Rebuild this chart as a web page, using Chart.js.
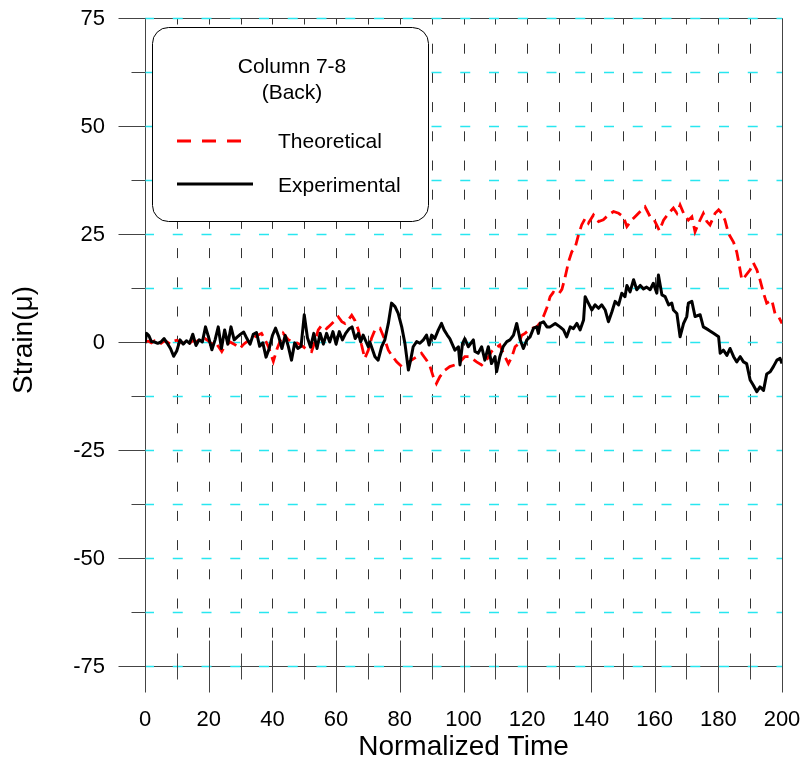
<!DOCTYPE html>
<html>
<head>
<meta charset="utf-8">
<script src="https://cdn.jsdelivr.net/npm/chart.js@4.4.1/dist/chart.umd.min.js"></script>
<style>
  html, body { margin: 0; padding: 0; background: #fff; }
</style>
</head>
<body>
<canvas id="strainChart" width="807" height="764"></canvas>
<script>
// values
const seriesNames = ['Theoretical', 'Experimental'];
const legendTitle = ['Column 7-8', '(Back)'];
const xTitle = 'Normalized Time';
const yTitle = 'Strain(\u03bc)';
const xTickLabels = [0, 20, 40, 60, 80, 100, 120, 140, 160, 180, 200];
const yTickLabels = [75, 50, 25, 0, -25, -50, -75];

const expTime = [
  0, 0.5, 1.2, 2, 3, 4, 5, 6, 7, 8,
  9, 10, 11, 12, 13, 14, 15, 16, 17, 18,
  19, 20, 21, 22, 23, 24, 25, 26, 27, 28,
  29, 30, 31, 32, 33, 34, 35, 36, 37, 38,
  39, 40, 41, 42, 43, 44, 45, 46, 47, 48,
  49, 50, 51, 52, 53, 54, 55, 56, 57, 58,
  59, 60, 61, 62, 63, 64, 65, 66, 67, 67.7,
  68.5, 70.1, 70.6, 72.2, 73.2, 74.3, 75.3, 76.4, 77.4, 78.5,
  79.5, 80.6, 81.6, 82.7, 83.4, 84.2, 85.3, 86.3, 87.4, 88.4,
  89.2, 90, 91, 92.1, 93.1, 93.9, 94.9, 95.7, 97.3, 98.4,
  98.9, 99.7, 100.4, 101.5, 103.1, 103.6, 104.6, 105.7, 106.7, 107.8,
  108.8, 109.9, 110.4, 111.4, 112.5, 113.6, 114.6, 115.7, 116.7, 117.8,
  118.8, 119.9, 120.9, 122, 123, 123.5, 124.1, 125.1, 126.2, 127.2,
  128.8, 130.3, 131.4, 132.4, 133.5, 134.5, 135.6, 136.6, 137.7, 138.2,
  139.2, 140.3, 141.3, 142.4, 143.4, 144.5, 145.5, 146.6, 147.6, 148.7,
  149.7, 150.7, 151.3, 152.3, 153.4, 154.4, 155.5, 156.5, 157.5, 158.6,
  159.6, 160.7, 161.2, 162.3, 163.3, 164.4, 165.4, 165.9, 167, 168,
  169.1, 170.1, 170.6, 171.7, 172.7, 174.3, 175.3, 176.9, 178.5, 180.1,
  180.6, 181.6, 182.7, 183.7, 184.8, 185.8, 186.9, 187.9, 188.9, 190,
  191, 192.1, 193.1, 194.2, 195.2, 196.3, 197.3, 198.4, 199.4, 200
];
const expStrain = [
  -0.3, 2.0, 1.5, 0.1, 0, -0.3, 0, 0.8, -0.3, -1.5,
  -3.3, -2, 0.5, -0.5, 0.3, -0.3, 1.8, -0.8, 0.5, 0,
  3.5, 1, -1.8, 0.5, 3.5, -1.5, 2.8, -0.5, 3.5, 0.5,
  1.2, 1.8, 2.3, 0.8, -0.5, 1.8, 2.2, -1, -0.2, -3.5,
  -1.5, 1.5, 3.2, 1.2, -1.5, 1.5, -1, -4.2, -0.2, -1.5,
  -1, 6.3, 1, -1.2, 2, -1.5, 2, -0.5, 2, 0,
  2.4, -0.5, 2.4, 0.5, 2, 3, 3.5, 0.8, 2, 0,
  1.6, -1.1, 0, -3.4, -4.2, -1.1, 0.5, 4.3, 9, 8.2,
  6.6, 3.5, -0.3, -6.5, -4.2, -1.1, 0.1, -0.3, 0.5, 1.6,
  -0.7, 1.6, 0.8, 2.8, 4.3, 2.8, 1.6, 0.8, -1.9, -1.1,
  -5.3, -0.3, 0.8, -1.1, 0.5, -2.2, -2.6, -1.1, -4.2, -1.1,
  -5, -3.4, -6.9, -3.4, -1, 0.1, 0.5, 1.6, 4.3, 0.5,
  -1.5, 0.5, 1.2, 3.2, 3.5, 2, 4.3, 4.7, 3.5, 3.5,
  4.3, 3.5, 2.8, 1.2, 3.5, 3.1, 4.3, 2.8, 5.1, 10.5,
  9, 7.4, 8.6, 7.8, 8.6, 7.4, 4.7, 7, 9.4, 8.6,
  11.3, 10.5, 13.1, 11.6, 14.4, 12.1, 13.1, 12.3, 12.7, 12.1,
  13.6, 11.3, 15.5, 10.9, 10.5, 8.6, 9, 7.4, 6.6, 1.2,
  4.3, 5.9, 9, 9.4, 5.9, 6.3, 3.5, 2.8, 2, 1.2,
  -2.6, -1.9, -3.1, -1.5, -3.4, -4.6, -3.4, -4.6, -5, -8.8,
  -10, -11.5, -10.4, -11.2, -7.4, -6.9, -5.7, -4.2, -3.8, -5
];

const theoTime = [
  0, 1, 2, 3, 4, 5, 6, 7, 8, 9,
  10, 11, 12, 13, 14, 15, 16, 17, 18.8, 20,
  21, 22, 23, 24.1, 25, 26.7, 28, 29.8, 31, 31.9,
  33, 34.5, 36.6, 37.7, 38.7, 40.3, 41.5, 43.4, 45, 47.1,
  48.5, 49.7, 51, 52.3, 53.3, 54.4, 55.5, 57, 58.3, 59.7,
  60.7, 61.8, 62.8, 63.8, 64.9, 65.9, 67, 68, 69, 70.1,
  71.1, 72.2, 73.8, 75.3, 76.4, 77.4, 79, 80.6, 82.1, 83.7,
  85.3, 86.8, 88.4, 89.5, 90.5, 91.5, 92.6, 94.2, 95.7, 97.3,
  98.9, 100.4, 102, 104.1, 105.7, 107.2, 108.8, 109.9, 111.4, 112.5,
  114.1, 115.2, 116.2, 117.5, 118.2, 119.3, 120.9, 123, 124.1, 125.1,
  126.2, 127.2, 128.2, 129.8, 130.9, 131.9, 133, 134, 135, 136.1,
  137.1, 138.2, 139.2, 140.8, 142.4, 143.9, 145.5, 147.1, 148.7, 150.2,
  151.3, 152.8, 154.4, 156, 157, 158.6, 159.9, 161.5, 162.8, 164.4,
  165.9, 167, 168, 169.1, 170.6, 171.7, 172.7, 173.8, 175.3, 176.4,
  177.4, 179, 180.1, 181.1, 182.1, 183.2, 184.8, 185.8, 186.3, 187.4,
  188.4, 190, 191, 192.1, 193.1, 194.2, 195.2, 196.8, 197.8, 198.9, 200
];
const theoStrain = [
  0, 0.2, -0.2, 0.3, 0, -0.3, 0.2, 0, -0.5, 0.2,
  0.4, 0, -0.3, 0.2, -0.3, 0.3, 0, 0.5, 0.8, 0.2,
  -0.5, 0, -1, -2.2, -1, 0, -0.5, -1.5, -0.5, 0,
  0.5, 1.2, 2, 0.5, -1, -4.5, -1.5, 2, 0.5, 0,
  -0.5, -1.1, -1.8, -2.2, 0, 2.8, 3.9, 3.1, 4, 5,
  5.8, 4.7, 4.3, 5.1, 6.2, 5, 2.8, -0.7, -3.8, -1.9,
  0.8, 2.8, 3.2, 0.5, -1.9, -3, -4.6, -5.7, -4.9, -4.2,
  -3.4, -2.6, -4.2, -5.7, -8, -9.6, -8, -6.5, -5.7, -5.3,
  -4.6, -3.4, -3.4, -4.6, -5.3, -4.2, -2.2, -1.5, -0.7, -2.6,
  -5, -3.4, -1.1, -0.3, 1.5, 2, 3, 3.5, 4.5, 5.9,
  8, 10.5, 11.5, 11, 12.2, 15, 18.6, 20.9, 21.7, 24.8,
  27.1, 28.6, 27.5, 29.4, 27.9, 28.3, 29.4, 30.2, 29.8, 29,
  26.7, 28.2, 29.4, 30.6, 31.3, 29, 28.2, 25.8, 28.2, 29.8,
  31, 29.8, 31.7, 29.8, 28.2, 29, 25.5, 27.5, 29.8, 27.9,
  27.1, 29.8, 30.6, 29.8, 28.2, 25.1, 23.1, 20.8, 18.9, 14.4,
  15.2, 16.7, 18.3, 16.7, 14.4, 11.3, 9, 9.7, 6.6, 5.9, 4.3
];

const fontFamily = '"Liberation Sans", Arial, Helvetica, sans-serif';
const axisColor = '#444';

// grid, frame, tick marks and axis labels (scales are hidden, drawn here from their pixel mapping)
const frame = {
  id: 'frame',
  beforeDatasetsDraw(chart) {
    const {ctx, chartArea: a, scales: {x, y}} = chart;
    const px = v => Math.round(x.getPixelForValue(v)) + 0.5;
    const py = v => Math.round(y.getPixelForValue(v)) + 0.5;
    ctx.save();
    ctx.lineWidth = 1;

    // vertical dashed grid every 10
    ctx.strokeStyle = '#333';
    ctx.setLineDash([10, 19.2]);
    ctx.lineDashOffset = 3.5;
    for (let t = 10; t < 200; t += 10) {
      ctx.beginPath();
      ctx.moveTo(px(t), a.top);
      ctx.lineTo(px(t), a.bottom);
      ctx.stroke();
    }

    // frame
    ctx.setLineDash([]);
    ctx.strokeStyle = axisColor;
    ctx.beginPath();
    ctx.moveTo(px(0), py(75)); ctx.lineTo(px(0), py(-75));
    ctx.moveTo(px(200), py(75)); ctx.lineTo(px(200), py(-75));
    ctx.moveTo(px(0), py(75)); ctx.lineTo(px(200), py(75));
    ctx.moveTo(px(0), py(-75)); ctx.lineTo(px(200), py(-75));
    ctx.stroke();

    // horizontal cyan dashed grid every 12.5
    ctx.strokeStyle = 'rgb(40,230,240)';
    ctx.lineWidth = 1.5;
    ctx.setLineDash([10, 18.75]);
    ctx.lineDashOffset = 1;
    for (let v = -75; v <= 75; v += 12.5) {
      ctx.beginPath();
      ctx.moveTo(a.left, py(v));
      ctx.lineTo(a.right, py(v));
      ctx.stroke();
    }

    // tick marks
    ctx.setLineDash([]);
    ctx.lineWidth = 1;
    ctx.strokeStyle = axisColor;
    ctx.beginPath();
    for (let v = -75; v <= 75; v += 12.5) {
      const len = v % 25 === 0 ? 27 : 14;
      ctx.moveTo(px(0) - len, py(v));
      ctx.lineTo(px(0), py(v));
    }
    const yb = py(-75);
    for (let t = 0; t <= 200; t += 10) {
      const len = t % 20 === 0 ? 26 : 13;
      ctx.moveTo(px(t), yb - len);
      ctx.lineTo(px(t), yb + len);
    }
    ctx.stroke();

    // tick labels
    ctx.fillStyle = '#000';
    ctx.font = '22px ' + fontFamily;
    ctx.textBaseline = 'middle';
    ctx.textAlign = 'right';
    yTickLabels.forEach(v => ctx.fillText(String(v), 105, y.getPixelForValue(v) + 1));
    ctx.textAlign = 'center';
    xTickLabels.forEach(t => ctx.fillText(String(t), x.getPixelForValue(t), 720));

    // axis titles
    ctx.font = '28px ' + fontFamily;
    ctx.fillText(xTitle, (a.left + a.right) / 2, 747);
    ctx.save();
    ctx.translate(24, (a.top + a.bottom) / 2 - 2);
    ctx.rotate(-Math.PI / 2);
    ctx.fillText(yTitle, 0, 0);
    ctx.restore();
    ctx.restore();
  }
};

function roundedBox(ctx, x, y, w, h, r) {
  ctx.beginPath();
  ctx.moveTo(x + r, y);
  ctx.arcTo(x + w, y, x + w, y + h, r);
  ctx.arcTo(x + w, y + h, x, y + h, r);
  ctx.arcTo(x, y + h, x, y, r);
  ctx.arcTo(x, y, x + w, y, r);
  ctx.closePath();
}

// boxed legend in the upper left
const legendBox = {
  id: 'legendBox',
  afterDatasetsDraw(chart) {
    const ctx = chart.ctx;
    const ds = chart.data.datasets;
    ctx.save();
    roundedBox(ctx, 152.5, 27.5, 276, 194, 16);
    ctx.fillStyle = '#fff';
    ctx.fill();
    ctx.strokeStyle = '#000';
    ctx.lineWidth = 1;
    ctx.stroke();

    ctx.fillStyle = '#000';
    ctx.font = '21px ' + fontFamily;
    ctx.textAlign = 'center';
    ctx.textBaseline = 'alphabetic';
    ctx.fillText(legendTitle[0], 292, 73);
    ctx.fillText(legendTitle[1], 292, 99);

    ctx.textAlign = 'left';
    ctx.fillText(seriesNames[0], 278, 148);
    ctx.fillText(seriesNames[1], 278, 192);

    ctx.lineWidth = 3;
    ctx.strokeStyle = ds[1].borderColor;
    ctx.setLineDash([14, 11]);
    ctx.beginPath();
    ctx.moveTo(177, 141); ctx.lineTo(243, 141);
    ctx.stroke();

    ctx.setLineDash([]);
    ctx.strokeStyle = ds[0].borderColor;
    ctx.beginPath();
    ctx.moveTo(177, 184); ctx.lineTo(253, 184);
    ctx.stroke();
    ctx.restore();
  }
};

const expData = expTime.map((t, i) => ({x: t, y: expStrain[i]}));
const theoData = theoTime.map((t, i) => ({x: t, y: theoStrain[i]}));

const ctx = document.getElementById('strainChart');

new Chart(ctx, {
  type: 'line',
  data: {
    datasets: [{
      label: seriesNames[1],
      data: expData,
      borderColor: '#000',
      borderWidth: 3,
      borderJoinStyle: 'round',
      pointRadius: 0,
      tension: 0,
      order: 0
    }, {
      label: seriesNames[0],
      data: theoData,
      borderColor: '#ff0000',
      borderWidth: 2.8,
      borderDash: [11, 6],
      pointRadius: 0,
      tension: 0,
      order: 1
    }]
  },
  options: {
    responsive: false,
    animation: false,
    devicePixelRatio: 1,
    layout: { padding: { top: 18, right: 25, left: 145, bottom: 98 } },
    plugins: { legend: { display: false }, tooltip: { enabled: false } },
    scales: {
      x: { type: 'linear', min: 0, max: 200, display: false },
      y: { type: 'linear', min: -75, max: 75, display: false }
    }
  },
  plugins: [frame, legendBox]
});
</script>
</body>
</html>
